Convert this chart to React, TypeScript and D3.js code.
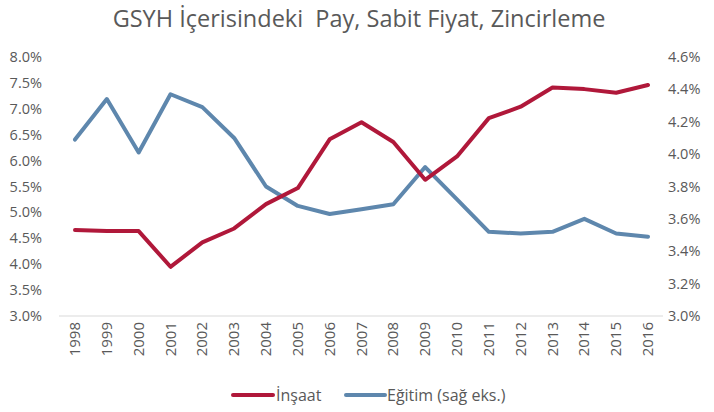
import React from "react";
import * as d3 from "d3";

const years = ["1998","1999","2000","2001","2002","2003","2004","2005","2006","2007","2008","2009","2010","2011","2012","2013","2014","2015","2016"];
const insaat = [4.66,4.64,4.64,3.95,4.42,4.69,5.16,5.47,6.41,6.74,6.36,5.63,6.08,6.82,7.04,7.41,7.38,7.31,7.46];
const egitim = [4.09,4.34,4.01,4.37,4.29,4.10,3.80,3.68,3.63,3.66,3.69,3.92,3.72,3.52,3.51,3.52,3.60,3.51,3.49];
const leftTicks = [3.0,3.5,4.0,4.5,5.0,5.5,6.0,6.5,7.0,7.5,8.0];
const rightTicks = [3.0,3.2,3.4,3.6,3.8,4.0,4.2,4.4,4.6];
const title = "GSYH İçerisindeki  Pay, Sabit Fiyat, Zincirleme";
const seriesNames = ["İnşaat", "Eğitim (sağ eks.)"];

const W = 714, H = 412;
const RED = "#B0183A";
const BLUE = "#5E87AD";
const TXT = "#595959";
const FONT = "'Open Sans', 'Noto Sans', sans-serif";

export default function App() {
  const x = d3.scalePoint<string>().domain(years).range([75, 648]);
  const yL = d3.scaleLinear().domain([3, 8]).range([316, 57]);
  const yR = d3.scaleLinear().domain([3, 4.6]).range([316, 57]);
  const lineL = d3.line<number>().x((_, i) => x(years[i])!).y(d => yL(d));
  const lineR = d3.line<number>().x((_, i) => x(years[i])!).y(d => yR(d));

  return (
    <svg width={W} height={H} style={{ position: "absolute", left: 0, top: 0, background: "#fff" }} fontFamily={FONT}>
      <rect width={W} height={H} fill="#fff" />
      <text x={359} y={27} textAnchor="middle" fontSize={23.5} fill={TXT} style={{ whiteSpace: "pre" }}>{title}</text>
      <line x1={59} x2={663} y1={yL(3)} y2={yL(3)} stroke="#d9d9d9" strokeWidth={1} />
      {leftTicks.map(t => (
        <text key={"l" + t} x={42} y={yL(t)} dy="0.35em" textAnchor="end" fontSize={14.5} fill={TXT}>{t.toFixed(1) + "%"}</text>
      ))}
      {rightTicks.map(t => (
        <text key={"r" + t} x={668} y={yR(t)} dy="0.35em" textAnchor="start" fontSize={14.5} fill={TXT}>{t.toFixed(1) + "%"}</text>
      ))}
      {years.map(yr => (
        <text key={yr} transform={`translate(${x(yr)! + 5},${322}) rotate(-90)`} textAnchor="end" fontSize={15} fill={TXT}>{yr}</text>
      ))}
      <path d={lineR(egitim)!} fill="none" stroke={BLUE} strokeWidth={4} strokeLinejoin="round" strokeLinecap="round" />
      <path d={lineL(insaat)!} fill="none" stroke={RED} strokeWidth={4} strokeLinejoin="round" strokeLinecap="round" />
      <line x1={233} x2={273} y1={395} y2={395} stroke={RED} strokeWidth={4} strokeLinecap="round" />
      <text x={276} y={395} dy="0.35em" fontSize={16} fill={TXT}>{seriesNames[0]}</text>
      <line x1={346} x2={385} y1={395} y2={395} stroke={BLUE} strokeWidth={4} strokeLinecap="round" />
      <text x={387} y={395} dy="0.35em" fontSize={16} fill={TXT}>{seriesNames[1]}</text>
    </svg>
  );
}
